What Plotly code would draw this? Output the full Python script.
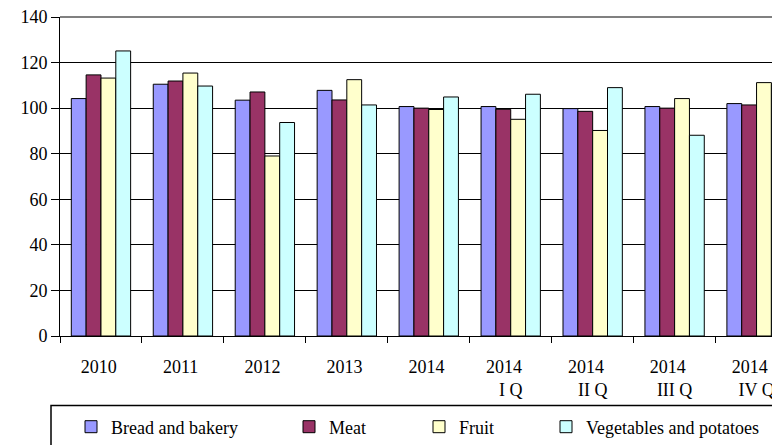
import plotly.graph_objects as go

NB = "\u00a0"
categories = ["2010" + NB, "2011" + NB, "2012" + NB, "2013" + NB, "2014" + NB,
              "2014" + NB * 3 + "<br>I Q", "2014" + NB * 3 + "<br>II Q",
              "2014" + NB * 3 + "<br>III Q", "2014" + NB * 3 + "<br>IV Q"]

bread = [104.2, 110.5, 103.5, 107.8, 100.7, 100.7, 99.8, 100.7, 102.0]
meat = [114.6, 111.9, 107.1, 103.6, 100.0, 99.5, 98.6, 100.0, 101.4]
fruit = [113.2, 115.4, 79.0, 112.5, 99.4, 95.1, 90.2, 104.2, 111.2]
vegetables = [125.1, 109.7, 93.7, 101.4, 104.9, 106.1, 109.0, 88.1, 110.5]

series_names = ["Bread and bakery", "Meat", "Fruit", "Vegetables and potatoes"]
series_values = [bread, meat, fruit, vegetables]
series_colors = ["#9999FF", "#993366", "#FFFFCC", "#CCFFFF"]

FONT = "Liberation Serif"
FS = 18
OFF = 8  # page body margin
W, H = 780 - OFF, 445 - OFF
ML, MT = 60 - OFF, 17 - OFF
PLOT_BOTTOM = 336 - OFF
MB = H - PLOT_BOTTOM
PH = PLOT_BOTTOM - MT

def px_to_paper_x(px_ref):
    return (px_ref - OFF - ML) / (W - ML)

def py_to_paper_y(py_ref):
    return (PLOT_BOTTOM - (py_ref - OFF)) / PH

legend_names = ["legend", "legend2", "legend3", "legend4"]
legend_x_ref = [71, 289, 419, 546]

fig = go.Figure()
for name, vals, col, lg in zip(series_names, series_values, series_colors, legend_names):
    fig.add_trace(go.Bar(
        x=categories, y=vals, name=name, legend=lg,
        marker=dict(color=col, line=dict(color="black", width=1)),
    ))

layout_legends = {}
for lg, lx in zip(legend_names, legend_x_ref):
    layout_legends[lg] = dict(
        x=px_to_paper_x(lx), xanchor="left",
        y=py_to_paper_y(427), yanchor="middle",
        orientation="h", bgcolor="rgba(0,0,0,0)", borderwidth=0,
        font=dict(family=FONT, size=FS, color="black"),
    )

fig.update_layout(
    width=W, height=H,
    margin=dict(l=ML, r=0, t=MT, b=MB, pad=0, autoexpand=False),
    paper_bgcolor="white", plot_bgcolor="white",
    barmode="group", bargap=0.276, bargroupgap=0,
    font=dict(family=FONT, size=FS, color="black"),
    showlegend=True,
    **layout_legends,
)
fig.update_xaxes(
    type="category", range=[-0.5, 8.286], automargin=False,
    showline=True, linecolor="black", linewidth=1,
    ticks="outside", tickson="boundaries", ticklen=6, tickcolor="black",
    ticklabelstandoff=14, ticklabeloverflow="allow",
    showgrid=False, tickfont=dict(family=FONT, size=FS, color="black"),
)
fig.update_yaxes(
    range=[0, 140], dtick=20, tick0=0, automargin=False,
    showline=True, linecolor="black", linewidth=1,
    ticks="outside", ticklen=8, tickcolor="black",
    ticklabeloverflow="allow",
    showgrid=True, gridcolor="black", gridwidth=1,
    tickfont=dict(family=FONT, size=FS, color="black"),
    zeroline=False,
)
fig.add_shape(type="line", xref="paper", yref="paper", x0=0, x1=1.1, y0=1, y1=1,
              line=dict(color="#808080", width=2))
fig.add_shape(type="rect", xref="paper", yref="paper",
              x0=px_to_paper_x(51), x1=px_to_paper_x(820),
              y0=py_to_paper_y(405.5), y1=py_to_paper_y(480),
              line=dict(color="black", width=1.5), fillcolor="rgba(0,0,0,0)")

fig.write_html("out.html")
